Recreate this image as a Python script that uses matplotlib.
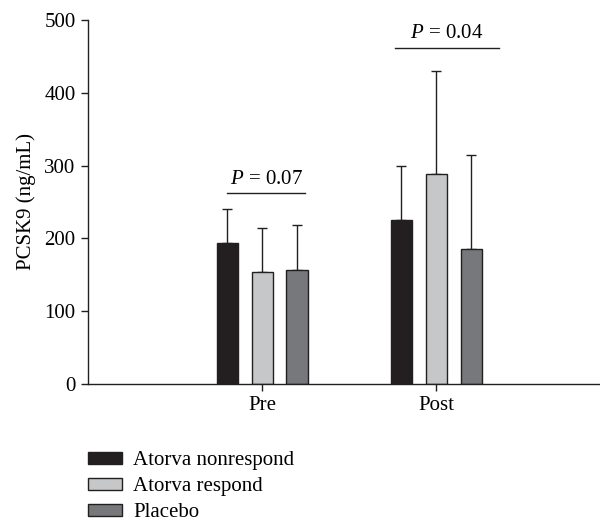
import numpy as np
import matplotlib
matplotlib.use('Agg')
import matplotlib.pyplot as plt
from matplotlib.patches import Patch

# data
groups = ['Pre', 'Post']
series = ['Atorva nonrespond', 'Atorva respond', 'Placebo']
means = {
    'Atorva nonrespond': [194, 225],
    'Atorva respond': [154, 289],
    'Placebo': [156, 185],
}
sds = {
    'Atorva nonrespond': [46, 75],
    'Atorva respond': [60, 141],
    'Placebo': [63, 130],
}
p_labels = ['0.07', '0.04']
p_heights = [262, 462]
colors = ['#231f20', '#c6c7c8', '#77787b']

plt.rcParams['font.family'] = 'Liberation Serif'
plt.rcParams['mathtext.fontset'] = 'custom'
plt.rcParams['mathtext.it'] = 'Liberation Serif:italic'
plt.rcParams['mathtext.rm'] = 'Liberation Serif'

fig = plt.figure(figsize=(6, 5.25), dpi=100)
ax = fig.add_axes([0.1467, 0.2686, 0.8533, 0.6934])

x = np.arange(len(groups))
offset = 0.2
width = 0.122
for i, name in enumerate(series):
    pos = x + (i - 1) * offset
    ax.bar(pos, means[name], width, color=colors[i], edgecolor='#231f20',
           linewidth=1, zorder=2)
    ax.errorbar(pos, means[name], yerr=[np.zeros(len(groups)), sds[name]],
                fmt='none', ecolor='#231f20', elinewidth=1, capsize=3.8,
                capthick=1, zorder=1)

# significance bars
spans = [(-0.2, 0.245), (-0.24, 0.36)]
for gi in range(len(groups)):
    lo = x[gi] + spans[gi][0]
    hi = x[gi] + spans[gi][1]
    ax.plot([lo, hi], [p_heights[gi]] * 2, color='#231f20', lw=1)
    ax.text((lo + hi) / 2, p_heights[gi] + 13, '$P$ = ' + p_labels[gi],
            ha='center', va='baseline', fontsize=15)

ax.set_xlim(-1.0, 1.94)
ax.set_ylim(0, 500)
ax.set_yticks([0, 100, 200, 300, 400, 500])
ax.set_xticks(x)
ax.set_xticklabels(groups)
ax.tick_params(labelsize=15, length=5, width=1, color='#231f20', pad=4)
ax.set_ylabel('PCSK9 (ng/mL)', fontsize=15, labelpad=6)
for s in ['top', 'right']:
    ax.spines[s].set_visible(False)
for s in ['left', 'bottom']:
    ax.spines[s].set_color('#231f20')
    ax.spines[s].set_linewidth(1)

handles = [Patch(facecolor=c, edgecolor='#231f20', linewidth=1) for c in colors]
fig.legend(handles, series, loc='upper left', bbox_to_anchor=(0.147, 0.14),
           frameon=False, fontsize=15, handlelength=1.6, handleheight=0.55,
           labelspacing=0.33, handletextpad=0.55, borderaxespad=0,
           borderpad=0)

fig.savefig('out.png', dpi=100)
